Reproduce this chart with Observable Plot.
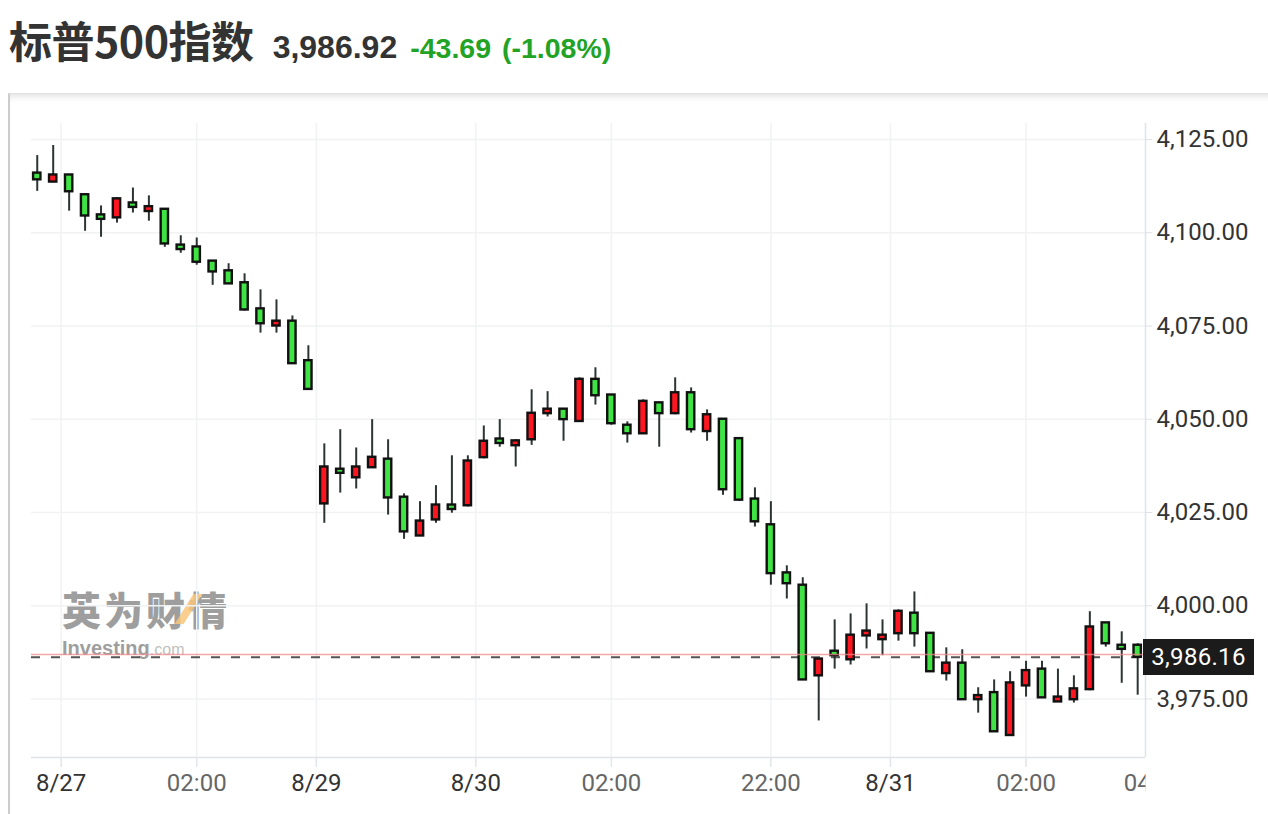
<!DOCTYPE html>
<html>
<head>
<meta charset="utf-8">
<script src="https://cdn.jsdelivr.net/npm/d3@7"></script>
<script src="https://cdn.jsdelivr.net/npm/@observablehq/plot@0.6"></script>
<style>
  html, body { margin: 0; padding: 0; background: #fff; width: 1268px; height: 814px; overflow: hidden; position: relative; }
  #hdr { position: absolute; left: 9px; top: 8px; display: flex; align-items: baseline; white-space: nowrap; font-weight: bold; }
  #box { position: absolute; left: 8px; top: 93px; width: 1280px; height: 740px; border-left: 2px solid #cdcdcd; border-top: 1px solid #e2e2e2;
         box-shadow: inset 0 7px 9px -6px rgba(0,0,0,0.16); }
  #chart { position: absolute; left: 10px; top: 93px; z-index: 2; }
  #wm { position: absolute; left: 62px; top: 588px; z-index: 1; opacity: 0.72; }
  #price { position: absolute; z-index: 3; background: #1b1b1b; color: #fff; font-family: Roboto, sans-serif; font-size: 24px;
           text-align: center; letter-spacing: 0.3px; }
</style>
</head>
<body>
<div id="hdr">
  <span style="font-family:'Noto Sans CJK SC',sans-serif;font-size:43px;color:#333;letter-spacing:-0.5px">标普500指数</span>
  <span style="font-family:'Liberation Sans',Arial,sans-serif;font-size:32px;color:#333;margin-left:19px">3,986.92</span>
  <span style="font-family:'Liberation Sans',Arial,sans-serif;font-size:28.5px;color:#22a325;margin-left:13px">-43.69</span>
  <span style="font-family:'Liberation Sans',Arial,sans-serif;font-size:28.5px;color:#22a325;margin-left:11px">(-1.08%)</span>
</div>
<div id="box"></div>
<div id="wm">
  <div style="position:relative;font-family:'Noto Sans CJK SC',sans-serif;font-weight:900;font-size:39px;color:#7a7a7a;letter-spacing:3px;line-height:40px;height:40px">英为财情
    <span style="position:absolute;left:122px;top:6px;width:9px;height:30px;background:#f6b04a;transform:skewX(-32deg);opacity:0.85"></span>
  </div>
  <div style="font-family:'Liberation Sans',Arial,sans-serif;line-height:20px;height:20px;margin-top:10px"><span style="font-weight:bold;font-size:20px;color:#7a7a7a">Investing</span><span style="font-size:16px;color:#a8a8a8">.com</span></div>
</div>
<div id="chart"></div>
<div id="price"></div>
<script>
// ---- data (15-minute candles, Beijing time) ----
const openVals  = [4116.0,4113.6,4115.5,4110.2,4104.8,4104.0,4108.0,4105.7,4106.3,4096.7,
                   4096.2,4092.4,4089.8,4086.6,4079.6,4075.0,4076.3,4065.7,
                   4027.3,4036.6,4034.3,4037.0,4039.3,4029.1,4018.7,4023.0,4027.0,4026.8,
                   4039.7,4044.7,4042.9,4044.5,4051.5,4052.7,4049.4,4060.7,4056.5,4048.4,
                   4046.1,4054.4,4051.5,4057.1,4046.7,4050.0,4044.8,4028.6,
                   4021.7,4008.8,4005.5,3981.2,3987.8,3985.5,3991.9,3990.9,3992.5,3998.0,
                   3992.6,3981.8,3984.6,3974.8,3976.7,3965.2,3978.5,3983.0,3974.2,3974.8,
                   3977.5,3995.4,3989.4,3989.4];
const highVals  = [4120.7,4123.4,4115.6,4110.5,4107.2,4109.4,4112.0,4109.9,4106.4,4099.2,
                   4098.6,4092.5,4091.7,4089.0,4084.7,4082.0,4077.7,4069.7,
                   4043.4,4047.2,4042.3,4049.9,4044.5,4030.0,4027.9,4032.2,4040.2,4040.2,
                   4048.2,4049.9,4044.5,4057.9,4057.4,4052.8,4061.1,4063.8,4056.5,4049.3,
                   4055.2,4054.5,4061.1,4058.4,4052.5,4050.0,4044.8,4031.6,
                   4027.9,4010.7,4007.5,3985.8,3996.2,3997.8,4000.5,3996.2,3998.9,4003.7,
                   3992.6,3988.7,3988.2,3978.0,3980.1,3982.3,3985.1,3985.1,3983.0,3981.2,
                   3998.4,3995.5,3993.0,3989.8];
const lowVals   = [4111.1,4113.4,4105.8,4100.4,4098.8,4102.6,4105.3,4103.1,4096.1,4094.5,
                   4091.3,4085.9,4086.2,4079.0,4073.1,4073.1,4064.9,4058.0,
                   4022.1,4030.2,4031.3,4037.0,4024.3,4017.8,4018.6,4022.1,4024.8,4026.5,
                   4039.4,4042.5,4037.2,4043.0,4050.6,4044.1,4049.4,4053.8,4048.4,4043.6,
                   4046.1,4042.5,4051.2,4046.3,4044.1,4029.6,4028.0,4021.1,
                   4005.5,4001.8,3980.0,3969.1,3983.0,3984.1,3988.4,3986.6,3990.5,3988.9,
                   3982.3,3979.8,3974.8,3971.2,3966.2,3965.2,3975.5,3975.3,3974.2,3973.9,
                   3977.2,3988.9,3979.2,3976.0];
const closeVals = [4114.2,4115.5,4111.0,4104.5,4103.6,4109.1,4106.8,4107.0,4097.0,4095.5,
                   4092.1,4089.5,4086.3,4079.3,4075.6,4076.3,4064.9,4058.0,
                   4037.2,4035.5,4037.2,4039.8,4028.9,4019.8,4022.7,4027.0,4025.8,4038.8,
                   4044.1,4043.5,4044.2,4051.6,4052.7,4049.9,4060.7,4056.3,4048.8,4046.1,
                   4054.8,4051.5,4057.1,4047.2,4051.2,4031.1,4028.3,4022.5,
                   4008.6,4005.9,3980.1,3985.7,3986.6,3992.1,3993.2,3992.1,3998.5,3992.5,
                   3982.3,3984.6,3974.8,3975.9,3966.2,3979.3,3982.6,3975.3,3975.5,3977.7,
                   3994.3,3989.8,3988.3,3986.16];

// x-axis ticks (candle index positions) and their labels
const xTickPos    = [1.5, 10, 17.5, 27.5, 36, 46, 53.5, 62, 70];
const xTickLabels = ["8/27", "02:00", "8/29", "8/30", "02:00", "22:00", "8/31", "02:00", "04:00"];
const xTickIsDate = [true, false, true, true, false, false, true, false, false];

// y-axis ticks
const yTicks = [3975, 4000, 4025, 4050, 4075, 4100, 4125];

// reference lines
const lastPrice = 3986.92;
const lastClose = 3986.16;

// ---- build ----
const candles = openVals.map((o, i) => ({
  i, open: o, high: highVals[i], low: lowVals[i], close: closeVals[i], up: closeVals[i] > o
}));
const xTicks = xTickPos.map((p, k) => ({pos: p, label: xTickLabels[k], date: xTickIsDate[k]}));

const xDomain = [-0.36, 69.49];
const yDomain = [3959.3, 4129.3];
const xTicksIn = xTicks.filter(d => d.pos <= xDomain[1]);
const halfBody = 0.23;

const plot = Plot.plot({
  width: 1258,
  height: 721,
  marginLeft: 21,
  marginRight: 123,
  marginTop: 30,
  marginBottom: 57,
  style: {background: "transparent", fontFamily: "Roboto, sans-serif", overflow: "visible"},
  x: {domain: xDomain, axis: null},
  y: {domain: yDomain, axis: null},
  marks: [
    Plot.ruleY(yTicks, {stroke: "#f1f2f4", strokeWidth: 1.5}),
    Plot.ruleX(xTicksIn, {x: "pos", stroke: "#f1f2f4", strokeWidth: 1.5}),
    Plot.ruleY([yDomain[0]], {stroke: "#dfe2e7", strokeWidth: 1.5}),
    Plot.ruleX([xDomain[1]], {stroke: "#dfe2e7", strokeWidth: 1.5}),
    Plot.axisX(xTicksIn.map(d => d.pos), {tickSize: 10, tickFormat: () => "", stroke: "#e2e5e9", strokeWidth: 1.5, label: null}),
    Plot.axisY(yTicks, {anchor: "right", tickSize: 6, tickPadding: 5, tickFormat: d3.format(",.2f"),
      stroke: "#dfe2e7", fill: "#333", fontSize: 24, label: null}),
    Plot.text(xTicks, {x: "pos", text: "label", frameAnchor: "bottom", dy: 33, fontSize: 24,
      fill: d => d.date ? "#333" : "#666"}),
    Plot.ruleY([lastClose], {stroke: "#555", strokeWidth: 2, strokeDasharray: "9,11"}),
    Plot.ruleX(candles, {x: "i", y1: "low", y2: "high", stroke: "#2d3434", strokeWidth: 2}),
    Plot.rect(candles, {
      x1: d => d.i - halfBody, x2: d => d.i + halfBody,
      y1: "open", y2: "close",
      fill: d => d.up ? "#ff1620" : "#3fe444",
      stroke: "#111", strokeWidth: 2.4
    }),
    Plot.ruleY([lastPrice], {stroke: "#f08a8a", strokeOpacity: 0.75, strokeWidth: 1.5})
  ]
});
document.getElementById("chart").appendChild(plot);

// clip the x tick labels at the plot's right edge (like the reference)
const xs = plot.scale("x"), ys = plot.scale("y");
const ns = "http://www.w3.org/2000/svg";
const defs = document.createElementNS(ns, "defs");
const cp = document.createElementNS(ns, "clipPath");
cp.setAttribute("id", "xclip");
cp.setAttribute("clipPathUnits", "userSpaceOnUse");
const cr = document.createElementNS(ns, "rect");
cr.setAttribute("x", 0); cr.setAttribute("y", 0);
cr.setAttribute("width", Math.max(...xs.range)); cr.setAttribute("height", 721);
cp.appendChild(cr); defs.appendChild(cp); plot.appendChild(defs);
plot.querySelectorAll('g[aria-label="text"]').forEach(g => g.setAttribute("clip-path", "url(#xclip)"));

// current price tag on the right axis
const tag = document.getElementById("price");
tag.textContent = d3.format(",.2f")(lastClose);
const yPix = 93 + ys.apply(lastClose);
Object.assign(tag.style, {left: (10 + Math.max(...xs.range) - 2) + "px", top: (yPix - 18) + "px",
  width: "111px", height: "36px", lineHeight: "36px"});
</script>
</body>
</html>
